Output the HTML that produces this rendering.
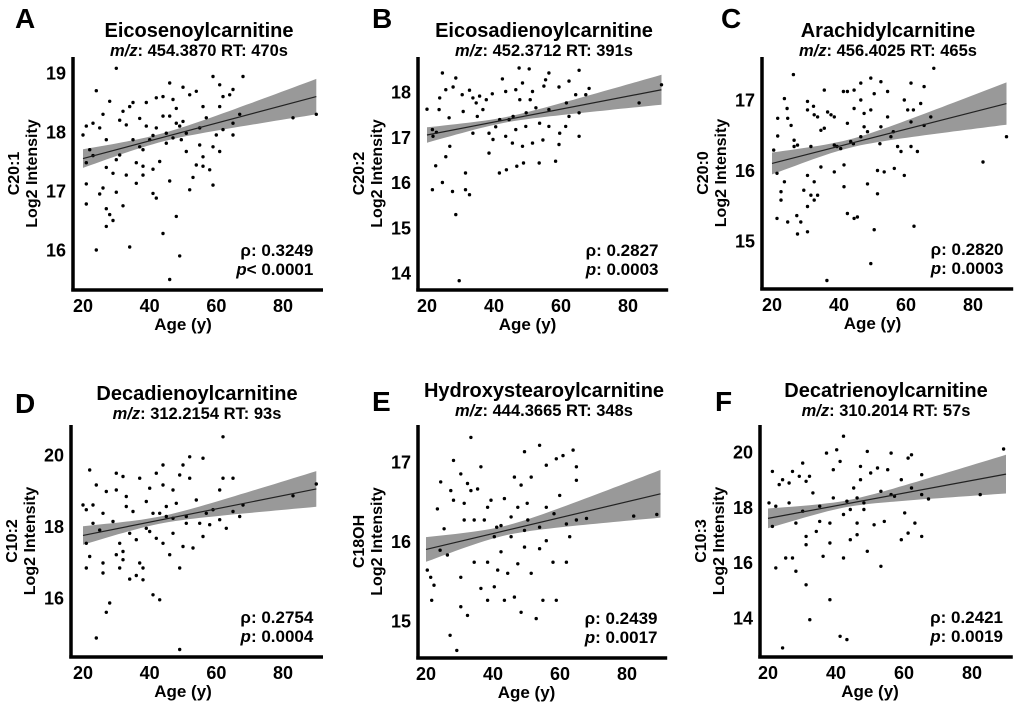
<!DOCTYPE html>
<html><head><meta charset="utf-8"><style>
html,body{margin:0;padding:0;background:#fff;}
svg{display:block;font-family:"Liberation Sans",Arial,sans-serif;font-weight:bold;}
</style></head><body>
<svg id="chart" width="1020" height="704" viewBox="0 0 1020 704"></svg>
<script>
const ageA=[30,24,28,20,21,23,25,26,27,22,21,21,21,25,26,27,27,28,29,27,24,30,32,34,32,34,35,33,31,30,31,33,36,36,38,38,38,39,37,39,41,41,42,42,44,44,43,44,41,46,46,47,48,46,48,49,46,50,52,49,51,52,54,53,54,56,55,56,56,58,59,59,59,60,61,61,61,62,62,64,65,65,65,67,68,83,90,42,45,47,49.5,51,48,50,45,37,40,57,55,23,35,29];
const valA=[19.08,18.7,18.52,17.95,18.1,18.15,18.07,18.3,17.87,17.7,17.48,17.12,16.78,16.95,17.05,17.4,16.7,16.6,16.5,16.4,16.0,16.98,16.75,16.05,18.35,18.43,18.5,18.12,18.2,17.53,17.61,17.27,17.48,17.13,17.7,17.42,17.27,18.5,18.23,18.1,17.94,16.96,16.88,18.58,18.6,18.27,17.5,16.28,17.37,18.83,18.27,18.55,18.4,17.17,16.57,15.9,15.5,18.76,18.63,18.1,17.67,17.02,18.69,17.23,17.44,18.43,17.78,17.58,17.42,17.36,17.1,17.75,18.94,17.95,18.8,18.43,17.67,18.6,18.04,18.63,18.72,18.15,17.95,18.3,18.94,18.24,18.3,18.07,17.98,17.9,17.87,17.98,18.15,18.18,17.81,17.75,17.87,18.24,18.07,17.6,17.87,17.3];
const ageB=[20,21.6,22.8,21.8,23.8,24.6,23.6,22.6,21.6,24.6,25.6,26.6,25.6,26.8,27.6,27.8,28.6,28.6,29.6,30.5,30.8,31.5,31.5,32.7,32.7,33.7,34.7,35,33.7,35.7,36.7,37.7,38.5,38.5,39.5,40.5,41.6,42.5,43.5,43.5,43.7,44.5,45.5,46.5,46.5,46.8,47.5,47.7,48.5,48.5,48.8,49.5,50.5,50.8,51.5,51.5,52.5,53.5,54.6,54.9,55.4,56.4,56.4,56.4,58.4,59.4,59.4,61.6,61.4,62.4,62.4,64.4,65.4,65.4,65.4,67.4,68.4,83.3,90,45.7,41.7,49.6,53.6,39.7,59.6];
const valB=[17.62,17.17,17.11,17.02,17.87,18.42,17.61,16.37,15.84,16.0,18.05,17.43,16.57,16.8,15.8,18.11,18.31,15.29,13.83,17.94,17.57,16.21,15.84,15.73,18.04,17.87,17.76,17.46,17.09,17.91,17.61,17.83,17.09,16.65,17.96,17.23,16.21,18.29,18.01,17.02,16.28,17.39,16.87,18.05,17.17,16.36,18.53,17.83,18.2,16.8,16.43,17.24,18.51,17.83,16.87,18.01,17.65,16.43,16.94,18.13,18.27,18.42,17.61,17.24,16.47,16.84,18.11,17.76,17.24,18.24,17.46,17.94,18.48,17.02,17.54,17.94,18.08,17.76,18.16,17.46,17.39,17.54,17.31,16.95,17.09];
const ageC=[20.5,21.5,21.5,21.7,21.7,22.7,22.7,23.7,23.7,24.5,24.7,24.7,25.7,26.4,26.6,26.6,27.4,27.6,27.6,28.6,29.5,30.6,30.6,30.6,30.6,30.6,31.6,31.6,32.4,32.6,32.6,32.6,33.6,33.6,34.6,34.6,35.6,35.6,36.6,36.4,37.6,38.6,38.6,38.6,39.4,40.5,41.3,41.5,41.5,42.5,42.5,42.5,43.5,44.5,44.5,44.5,45.5,46.5,46.5,46.5,47.5,47.5,48.5,48.5,49.5,49.5,49.5,50.5,50.5,51.5,51.5,52.5,52.5,53.5,54.5,54.5,55.5,56.5,57.5,58.5,59.5,59.5,60.5,61.5,61.5,61.5,62.2,62.4,63.4,64.4,65.4,65.4,67.4,68.3,83,90,44.3,52.2,56.2];
const valC=[16.29,15.96,15.32,16.49,16.74,15.7,15.58,17.02,15.84,16.88,15.27,16.74,16.64,17.36,16.43,16.34,15.36,15.1,16.36,15.27,15.72,16.98,16.86,15.93,15.49,15.13,16.34,15.65,16.91,16.79,15.84,15.58,16.76,15.65,16.57,16.05,17.14,16.6,16.83,14.44,16.79,16.76,15.98,16.36,16.34,16.31,17.12,16.08,15.77,17.12,15.39,16.67,16.41,17.14,16.88,15.32,15.34,17.24,17.0,16.48,16.62,16.81,16.55,15.81,17.31,16.86,14.68,17.09,15.16,16.0,15.67,17.26,16.62,15.98,17.12,16.76,16.48,16.03,16.34,16.27,17.0,15.93,16.86,17.24,16.34,16.69,16.86,15.21,16.27,16.95,17.19,16.64,16.76,17.45,16.12,16.48,16.38,16.38,16.55];
const ageD=[20,21,21,21,22,22,23,23,24,24,25,26,26,26,27,27,28,29,30,30,30,31,31,32,32,32,33,33,34,34,35,36,36,37,37,38,38,39,39,40,41,41,42,42,43,44,44,44,45,46,47,47,48,49,49,49,50,50,52,52,53,54,55,56,56,58,59,61,61,62,62,63,65,65,67,68,83,90,43,47,51,45,57,40,51];
const valD=[18.6,18.47,17.53,16.84,19.58,17.16,18.6,18.09,19.16,14.88,17.9,18.37,16.98,16.7,18.98,15.6,15.86,18.14,19.49,19.02,17.21,17.53,16.84,19.4,17.3,17.07,18.84,18.56,17.81,16.53,18.42,17.63,16.63,19.35,16.98,16.84,16.51,18.7,17.95,19.07,18.37,16.09,19.49,17.67,15.95,19.72,19.16,17.53,18.28,17.21,19.02,17.81,18.65,19.44,16.84,14.56,19.72,17.44,19.95,19.35,17.4,18.74,18.09,19.91,17.72,18.05,18.47,19.02,18.19,20.51,19.35,17.95,19.35,18.42,18.28,18.6,18.86,19.19,18.37,18.23,18.28,18.56,18.37,17.86,18.09];
const ageE=[20.4,21.4,21.7,22.4,23.4,24.4,24.2,25.4,26.4,27.2,27.4,28.2,28.2,29.2,30.4,30.4,30.4,31.4,31.4,32.4,32.4,33.4,33.4,34.4,34.4,35.4,36.4,36.4,37.4,38.4,38.4,38.4,39.4,40.4,40.4,41.4,42.4,42.4,43.4,43.4,44.4,45.4,46.4,46.4,47.4,47.4,48.4,48.4,49.4,49.4,50.4,51.4,51.4,52.9,53.9,53.9,54.9,55.9,55.9,55.9,57.9,58.9,58.9,59.9,60.9,61.9,61.9,62.9,63.9,64.9,64.9,64.9,67.9,82,88.9,45.4,49.4,53.9,41.1,50.2,58.2];
const valE=[15.64,15.55,15.26,15.45,16.41,16.75,15.89,16.16,15.83,14.82,16.64,17.02,16.52,14.63,16.85,15.55,15.18,16.48,16.27,16.73,15.07,17.31,16.64,16.27,15.74,16.66,16.94,15.41,16.27,16.43,15.26,15.74,16.52,15.43,16.06,15.64,16.2,15.87,16.54,15.26,15.6,16.31,16.81,15.3,16.43,15.72,16.71,15.11,17.13,15.93,16.27,16.81,15.6,15.03,17.21,15.91,15.26,16.96,16.43,16.01,15.74,17.04,15.26,16.58,17.08,16.22,15.74,16.06,17.15,16.94,16.77,16.27,16.29,16.32,16.34,16.06,16.14,16.18,16.18,16.48,16.35];
const ageF=[20.3,21.3,21.3,22.3,22.3,23.3,24.3,24.3,25.2,26.2,26.2,27.2,27.2,28.2,28.2,29.2,30.2,30.2,31.2,31.2,31.2,31.2,32.2,32.3,33.2,34.2,35.2,36.2,37.2,38.2,38.2,38.2,39.2,40.2,41.2,41.2,42.2,42.2,42.2,43.2,43.2,44.2,45.2,46.2,46.2,47.2,47.2,48.2,49.2,49.2,50.2,51.2,52.2,53.2,54.2,55.2,56.2,57.2,59.2,59.2,60.2,61.2,61.2,62.2,62.2,63.2,65.2,65.2,65.2,67.2,82.4,89.3,44.2,48.2,53.2,39.2,46.2,56.2,35.2];
const valF=[18.16,19.3,17.31,18.04,15.81,18.82,19.0,12.92,16.17,18.16,18.88,19.3,16.17,17.43,15.69,19.12,19.6,17.86,18.94,16.95,16.65,15.2,19.12,13.94,18.52,17.13,17.49,16.23,19.96,16.71,14.66,17.43,19.36,20.08,19.66,13.34,20.57,16.17,17.74,18.22,13.22,16.83,18.7,17.43,17.01,19.48,19.0,18.16,20.02,16.41,19.24,17.37,19.42,15.87,17.49,19.36,19.96,18.4,19.0,16.83,17.8,19.78,17.07,19.9,18.7,17.43,16.95,19.18,18.46,18.3,18.46,20.11,17.92,17.92,18.58,18.34,18.34,18.46,18.04];
const fitAges=[20,90];
const fitA=[17.55,18.6], bandA=[0.07,0.3];
const fitB=[17.05,18.05], bandB=[0.06,0.33];
const fitC=[16.1,16.95], bandC=[0.06,0.3];
const fitD=[17.75,19.05], bandD=[0.1,0.5];
const fitE=[15.9,16.6], bandE=[0.06,0.3];
const fitF=[17.6,19.2], bandF=[0.12,0.7];
const xTicks=[20,40,60,80];
const yTicksA=[16,17,18,19], yTicksB=[14,15,16,17,18], yTicksC=[15,16,17];
const yTicksD=[16,18,20], yTicksE=[15,16,17], yTicksF=[14,16,18,20];

const panels=[
 {id:'a',L:'A',title:'Eicosenoylcarnitine',mz:'454.3870',rt:'470s',lab:'C20:1',rho:'ρ: 0.3249',p:'< 0.0001',ax:73,bot:290,top:57,x20:83,x80:283,ya:19,yaPx:73,yb:16,ybPx:250,age:ageA,val:valA,fit:fitA,band:bandA,yt:yTicksA,lx:15,ly:28,ty:37},
 {id:'b',L:'B',title:'Eicosadienoylcarnitine',mz:'452.3712',rt:'391s',lab:'C20:2',rho:'ρ: 0.2827',p:': 0.0003',ax:418,bot:290,top:57,x20:427,x80:628,ya:18,yaPx:92,yb:14,ybPx:273,age:ageB,val:valB,fit:fitB,band:bandB,yt:yTicksB,lx:372,ly:28,ty:37},
 {id:'c',L:'C',title:'Arachidylcarnitine',mz:'456.4025',rt:'465s',lab:'C20:0',rho:'ρ: 0.2820',p:': 0.0003',ax:762,bot:289,top:57,x20:772,x80:973,ya:17,yaPx:100,yb:15,ybPx:241,age:ageC,val:valC,fit:fitC,band:bandC,yt:yTicksC,lx:721,ly:28,ty:37},
 {id:'d',L:'D',title:'Decadienoylcarnitine',mz:'312.2154',rt:'93s',lab:'C10:2',rho:'ρ: 0.2754',p:': 0.0004',ax:71,bot:657,top:425,x20:83,x80:283,ya:20,yaPx:455,yb:16,ybPx:598,age:ageD,val:valD,fit:fitD,band:bandD,yt:yTicksD,lx:15,ly:413,ty:400},
 {id:'e',L:'E',title:'Hydroxystearoylcarnitine',mz:'444.3665',rt:'348s',lab:'C18OH',rho:'ρ: 0.2439',p:': 0.0017',ax:418,bot:658,top:425,x20:426,x80:627,ya:17,yaPx:462,yb:15,ybPx:621,age:ageE,val:valE,fit:fitE,band:bandE,yt:yTicksE,lx:372,ly:411,ty:397},
 {id:'f',L:'F',title:'Decatrienoylcarnitine',mz:'310.2014',rt:'57s',lab:'C10:3',rho:'ρ: 0.2421',p:': 0.0019',ax:760,bot:657,top:425,x20:768,x80:972,ya:20,yaPx:452,yb:14,ybPx:618,age:ageF,val:valF,fit:fitF,band:bandF,yt:yTicksF,lx:715,ly:411,ty:397}
];
const NS='http://www.w3.org/2000/svg';
const svg=document.getElementById('chart');
function mk(tag,attrs,parent,txt){const e=document.createElementNS(NS,tag);for(const k in attrs)e.setAttribute(k,attrs[k]);if(txt!==undefined)e.textContent=txt;parent.appendChild(e);return e;}
panels.forEach(P=>{
 const g=mk('g',{},svg);
 
 
 const xs=a=>P.x20+(a-20)*(P.x80-P.x20)/60;
 const ys=v=>P.yaPx+(v-P.ya)*(P.ybPx-P.yaPx)/(P.yb-P.ya);
 const cx=P.ax+126;
 let t=mk('text',{x:P.lx,y:P.ly,'font-size':28},g,P.L);
  
 t=mk('text',{x:cx,y:P.ty,'font-size':20,'text-anchor':'middle'},g,P.title);
  
 t=mk('text',{x:cx,y:P.ty+19,'font-size':16.5,'text-anchor':'middle'},g);
  
 mk('tspan',{'font-style':'italic'},t,'m/z'); mk('tspan',{},t,': '+P.mz+' RT: '+P.rt);
 const n=40,up=[],lo=[];
 const h0=P.band[0],h90=P.band[1],k=(h90*h90-h0*h0)/(47*47);
 for(let i=0;i<=n;i++){const a=20+70*i/n;const m=P.fit[0]+(P.fit[1]-P.fit[0])*(a-20)/70;const hw=Math.sqrt(h0*h0+k*(a-43)*(a-43));up.push(xs(a).toFixed(1)+','+ys(m+hw).toFixed(1));lo.unshift(xs(a).toFixed(1)+','+ys(m-hw).toFixed(1));}
 const band=mk('polygon',{points:up.concat(lo).join(' '),fill:'#999999'},g);
  
 P.age.forEach((a,i)=>{const c=mk('circle',{cx:xs(a).toFixed(1),cy:ys(P.val[i]).toFixed(1),r:1.7,fill:'#000'},g);
   });
 const ln=mk('line',{x1:xs(fitAges[0]),y1:ys(P.fit[0]),x2:xs(fitAges[1]),y2:ys(P.fit[1]),stroke:'#222','stroke-width':1.2},g);
  
 const ya=mk('line',{x1:P.ax,y1:P.top,x2:P.ax,y2:P.bot+1.5,stroke:'#000','stroke-width':3.5},g);
  
 const xa=mk('line',{x1:P.ax-1.7,y1:P.bot,x2:xs(92),y2:P.bot,stroke:'#000','stroke-width':3.5},g);
  
 P.yt.forEach(v=>{const tt=mk('text',{x:P.ax-7,y:ys(v)+6.5,'font-size':18,'text-anchor':'end'},g,String(v));
   });
 xTicks.forEach(v=>{const tt=mk('text',{x:xs(v),y:P.bot+22,'font-size':18,'text-anchor':'middle'},g,String(v));
   });
 t=mk('text',{x:xs(50),y:P.bot+40,'font-size':17,'text-anchor':'middle'},g,'Age (y)');
  
 const my=(P.top+P.bot)/2;
 t=mk('text',{x:0,y:0,'font-size':16,'text-anchor':'middle',transform:`translate(${P.ax-54},${my}) rotate(-90)`},g,P.lab);
  
 t=mk('text',{x:0,y:0,'font-size':16,'text-anchor':'middle',transform:`translate(${P.ax-36},${my}) rotate(-90)`},g,'Log2 Intensity');
  
 const sx=xs(90)-3;
 t=mk('text',{x:sx,y:P.bot-34,'font-size':17,'text-anchor':'end'},g,P.rho);
  
 t=mk('text',{x:sx,y:P.bot-15,'font-size':17,'text-anchor':'end'},g);
  
 mk('tspan',{'font-style':'italic'},t,'p'); mk('tspan',{},t,P.p);
});
</script>
</body></html>
